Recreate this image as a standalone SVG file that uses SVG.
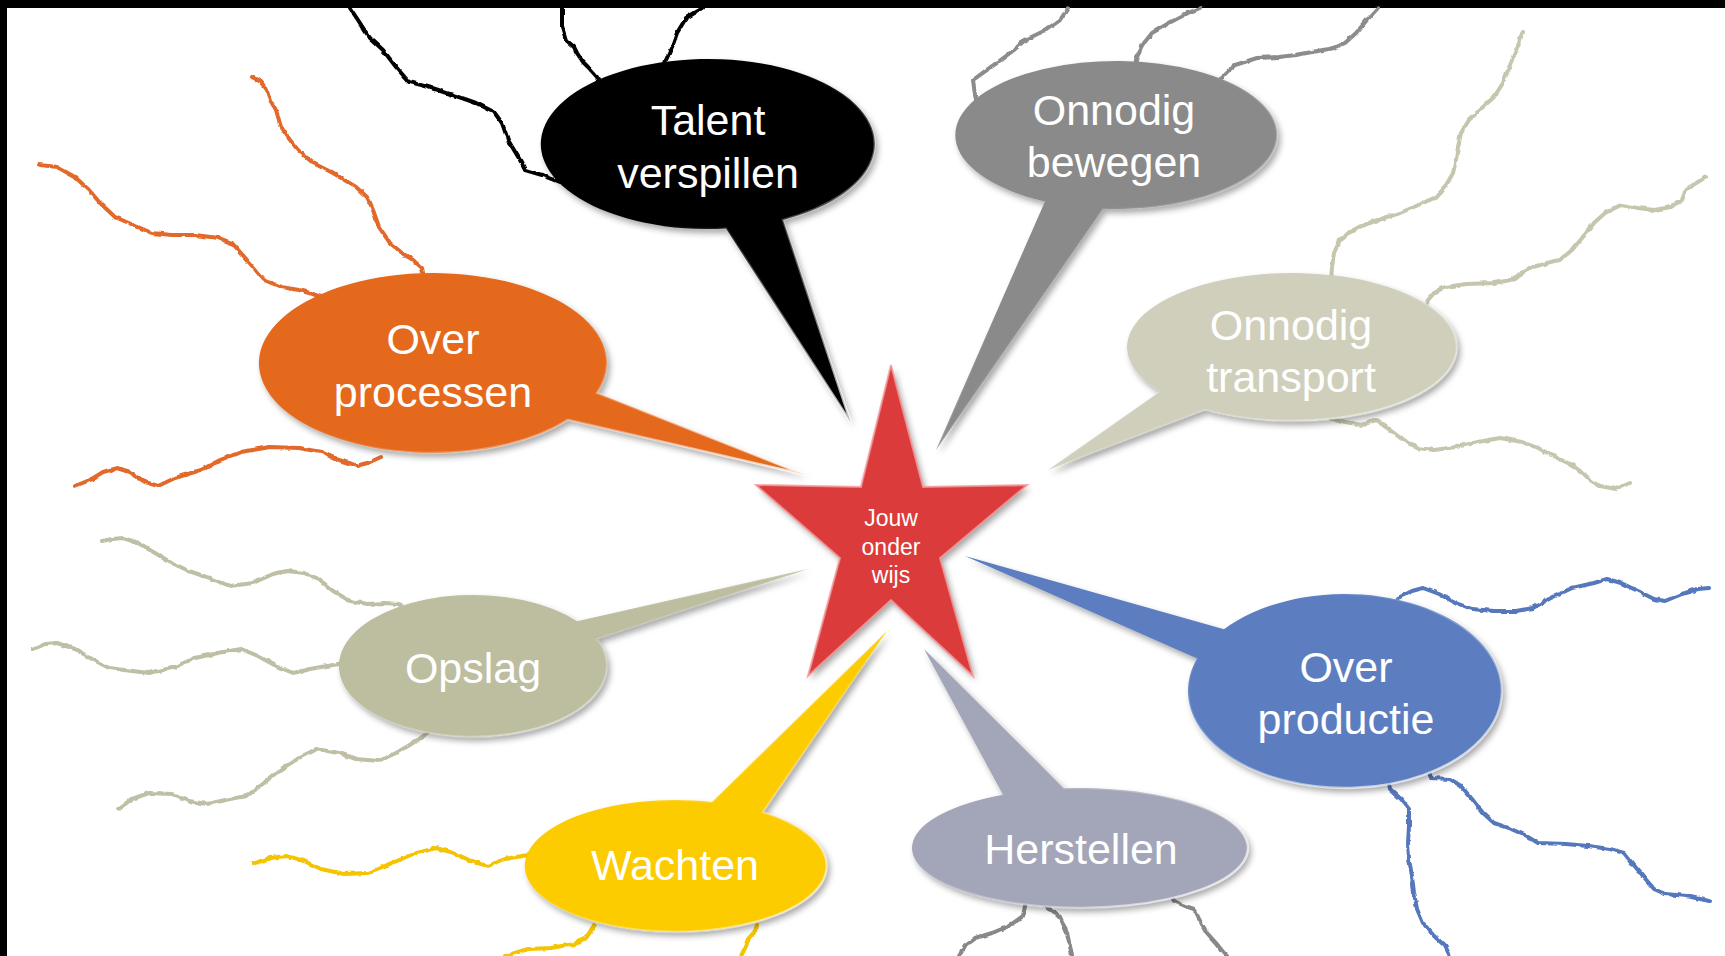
<svg xmlns="http://www.w3.org/2000/svg" width="1725" height="956" viewBox="0 0 1725 956">
<style>
.ln{fill:none;stroke-width:4;stroke-linejoin:round;stroke-linecap:round}
.bub{filter:url(#sh)}
.rim{fill:none;stroke:url(#hl);stroke-width:2.5}
.lbl{font-family:"Liberation Sans",Arial,sans-serif;font-size:43px;fill:#fff;text-anchor:middle}
.star{font-family:"Liberation Sans",Arial,sans-serif;font-size:23px;fill:#fff;text-anchor:middle}
</style>
<defs>
<filter id="sh" x="-20%" y="-20%" width="140%" height="140%">
<feDropShadow dx="3" dy="4" stdDeviation="3" flood-color="#000" flood-opacity="0.35"/>
</filter>
<filter id="wob" x="-5%" y="-5%" width="110%" height="110%">
<feTurbulence type="fractalNoise" baseFrequency="0.12" numOctaves="2" seed="3" result="n"/>
<feDisplacementMap in="SourceGraphic" in2="n" scale="3.5" xChannelSelector="R" yChannelSelector="G"/>
</filter>
<linearGradient id="hl" x1="0" y1="0" x2="1" y2="1">
<stop offset="0.4" stop-color="#fff" stop-opacity="0"/>
<stop offset="1" stop-color="#fff" stop-opacity="0.8"/>
</linearGradient>
</defs>
<rect x="0" y="0" width="1725" height="956" fill="#fff"/>
<rect x="0" y="0" width="1725" height="8" fill="#000"/>
<rect x="0" y="0" width="7" height="956" fill="#000"/>

<g id="connectors" filter="url(#wob)">
<g stroke="#000">
<polyline class="ln" points="350,8 358,20 369,37 383,50 396,67 409,82 428,87 459,97 476,103 494,112 502,123 508,140 520,160 525,170 542,175 560,182"/>
<polyline class="ln" points="562,8 562,27 566,40 574,47 577,53 583,62 588,67 597,77 600,84"/>
<polyline class="ln" points="703,8 686,18 677,33 672,47 666,60 663,72"/>
</g>
<g stroke="#e2692a">
<polyline class="ln" points="252,77 261,82 267,90 270,100 276,110 281,127 290,140 298,150 313,163 333,173 356,187 367,197 373,210 379,227 390,243 402,253 413,260 422,268 424,278"/>
<polyline class="ln" points="40,165 57,167 75,177 89,190 100,203 115,217 138,227 152,233 172,235 195,235 218,238 232,243 241,253 253,267 264,280 281,287 299,290 310,293 321,297 330,300"/>
<polyline class="ln" points="75,486 90,480 103,472 118,468 130,472 145,482 158,486 175,478 201,470 220,460 241,452 270,447 299,448 321,452 339,460 358,466 370,462 381,457"/>
</g>
<g stroke="#8c8c8c">
<polyline class="ln" points="1068,8 1060,20 1046,30 1025,40 1014,50 998,62 984,72 973,80 975,95 977,103"/>
<polyline class="ln" points="1200,8 1188,13 1169,23 1152,33 1144,43 1139,52 1136,60 1135,66"/>
<polyline class="ln" points="1378,8 1367,20 1356,33 1345,43 1334,48 1312,52 1296,55 1279,57 1257,58 1235,65 1227,72 1221,78 1218,84"/>
</g>
<g stroke="#c6c6ae">
<polyline class="ln" points="1523,32 1519,43 1513,57 1508,70 1503,83 1494,97 1483,107 1469,120 1461,133 1458,147 1456,160 1453,173 1445,187 1436,197 1423,203 1400,213 1378,220 1359,227 1348,233 1340,240 1334,253 1332,267 1331,282"/>
<polyline class="ln" points="1706,177 1693,185 1685,192 1682,200 1671,207 1654,210 1638,208 1621,205 1605,213 1594,223 1583,237 1572,250 1560,260 1547,263 1533,267 1522,273 1511,280 1494,283 1467,284 1445,287 1434,293 1428,300 1425,308"/>
<polyline class="ln" points="1329,417 1345,422 1362,425 1376,420 1390,430 1403,440 1417,448 1434,450 1456,447 1478,442 1500,438 1522,442 1538,448 1555,457 1572,465 1583,473 1590,480 1600,486 1616,489 1630,483"/>
</g>
<g stroke="#bfbfa5">
<polyline class="ln" points="102,541 112,539 123,538 138,543 155,553 172,563 189,571 212,579 230,586 253,583 273,574 287,571 304,573 319,579 333,591 350,601 367,604 385,603 399,604 404,609"/>
<polyline class="ln" points="32,649 46,644 57,643 75,649 92,659 109,668 132,671 149,673 172,668 195,658 218,653 241,649 258,656 276,666 293,673 310,669 327,666 339,664 345,664"/>
<polyline class="ln" points="118,809 132,799 149,793 172,794 189,801 207,804 230,799 247,796 264,783 281,769 299,758 316,749 339,753 356,759 379,761 396,753 408,746 419,739 428,733"/>
</g>
<g stroke="#f5c400">
<polyline class="ln" points="253,864 270,858 287,856 304,861 321,869 344,874 367,873 390,864 413,854 436,848 454,853 471,861 488,866 505,859 522,856 530,855"/>
<polyline class="ln" points="505,956 528,949 551,948 574,944 586,938 591,931 594,925"/>
<polyline class="ln" points="741,956 746,946 749,938 755,931 757,925"/>
</g>
<g stroke="#5577bb">
<polyline class="ln" points="1396,602 1398,598 1412,591 1423,588 1439,594 1456,603 1472,609 1494,611 1516,611 1533,608 1549,599 1572,588 1594,583 1607,579 1621,583 1638,591 1654,599 1665,601 1682,594 1698,589 1709,588"/>
<polyline class="ln" points="1429,772 1431,778 1450,779 1461,786 1472,799 1483,813 1494,823 1511,829 1527,836 1538,843 1566,844 1588,846 1610,849 1624,853 1632,863 1643,876 1654,889 1665,894 1687,896 1709,901"/>
<polyline class="ln" points="1389,783 1390,789 1401,799 1409,809 1409,826 1408,843 1409,859 1412,876 1414,893 1417,909 1423,923 1434,936 1445,946 1450,956"/>
</g>
<g stroke="#888">
<polyline class="ln" points="1026,902 1025,906 1023,916 1009,926 992,933 976,938 965,946 959,956"/>
<polyline class="ln" points="1044,903 1045,906 1053,911 1061,919 1067,933 1070,946 1072,956"/>
<polyline class="ln" points="1172,896 1174,901 1185,906 1194,909 1199,919 1207,933 1216,943 1224,953 1227,956"/>
</g>
</g>

<g id="talent">
<path class="bub" fill="#000" d="M726,228.5 A167,85 0 1 1 783,219.9 L851,423 Z"/>
<path class="rim" d="M726,228.5 A167,85 0 1 1 783,219.9 L851,423 Z"/>
<text class="lbl" x="708" y="135">Talent</text>
<text class="lbl" x="708" y="188">verspillen</text>
</g>

<g id="bewegen">
<path class="bub" fill="#8a8a8a" d="M1045,201.4 A161,74 0 1 1 1103,208.8 L936,450 Z"/>
<path class="rim" d="M1045,201.4 A161,74 0 1 1 1103,208.8 L936,450 Z"/>
<text class="lbl" x="1114" y="125">Onnodig</text>
<text class="lbl" x="1114" y="177">bewegen</text>
</g>

<g id="transport">
<path class="bub" fill="#cfcfbb" d="M1160,391.4 A165,74 0 1 1 1205,409.9 L1048,470 Z"/>
<path class="rim" d="M1160,391.4 A165,74 0 1 1 1205,409.9 L1048,470 Z"/>
<text class="lbl" x="1291" y="340">Onnodig</text>
<text class="lbl" x="1291" y="392">transport</text>
</g>

<g id="processen">
<path class="bub" fill="#e5691f" d="M568,419.8 A174,90 0 1 1 597,393 L806,475 Z"/>
<path class="rim" d="M568,419.8 A174,90 0 1 1 597,393 L806,475 Z"/>
<text class="lbl" x="433" y="354">Over</text>
<text class="lbl" x="433" y="407">processen</text>
</g>

<g id="opslag">
<path class="bub" fill="#bdbd9f" d="M597,639.1 A134,71 0 1 1 577,621.2 L808,569 Z"/>
<path class="rim" d="M597,639.1 A134,71 0 1 1 577,621.2 L808,569 Z"/>
<text class="lbl" x="473" y="683">Opslag</text>
</g>

<g id="wachten">
<path class="bub" fill="#fccb06" d="M763,812.1 A151,66 0 1 1 712,801.9 L887,631 Z"/>
<path class="rim" d="M763,812.1 A151,66 0 1 1 712,801.9 L887,631 Z"/>
<text class="lbl" x="675" y="880">Wachten</text>
</g>

<g id="herstellen">
<path class="bub" fill="#a3a5b8" d="M1064,788.3 A168,60 0 1 1 1003,794.7 L924,649 Z"/>
<path class="rim" d="M1064,788.3 A168,60 0 1 1 1003,794.7 L924,649 Z"/>
<text class="lbl" x="1081" y="864">Herstellen</text>
</g>

<g id="productie">
<path class="bub" fill="#5b7ec0" d="M1224,629.2 A157,97 0 1 1 1197,658.6 L965,556 Z"/>
<path class="rim" d="M1224,629.2 A157,97 0 1 1 1197,658.6 L965,556 Z"/>
<text class="lbl" x="1346" y="682">Over</text>
<text class="lbl" x="1346" y="734">productie</text>
</g>

<g id="star">
<polygon class="bub" fill="#dc3b3b" points="891,365 923,487 1027,485 940,558 973,676 891,600 808,676 840,558 756,485 861,487"/>
<polygon fill="none" stroke="#f39a9a" stroke-width="2" stroke-opacity="0.8" stroke-linejoin="miter" points="891,365 923,487 1027,485 940,558 973,676 891,600 808,676 840,558 756,485 861,487"/>
<text class="star" x="891" y="526">Jouw</text>
<text class="star" x="891" y="555">onder</text>
<text class="star" x="891" y="583">wijs</text>
</g>
</svg>
